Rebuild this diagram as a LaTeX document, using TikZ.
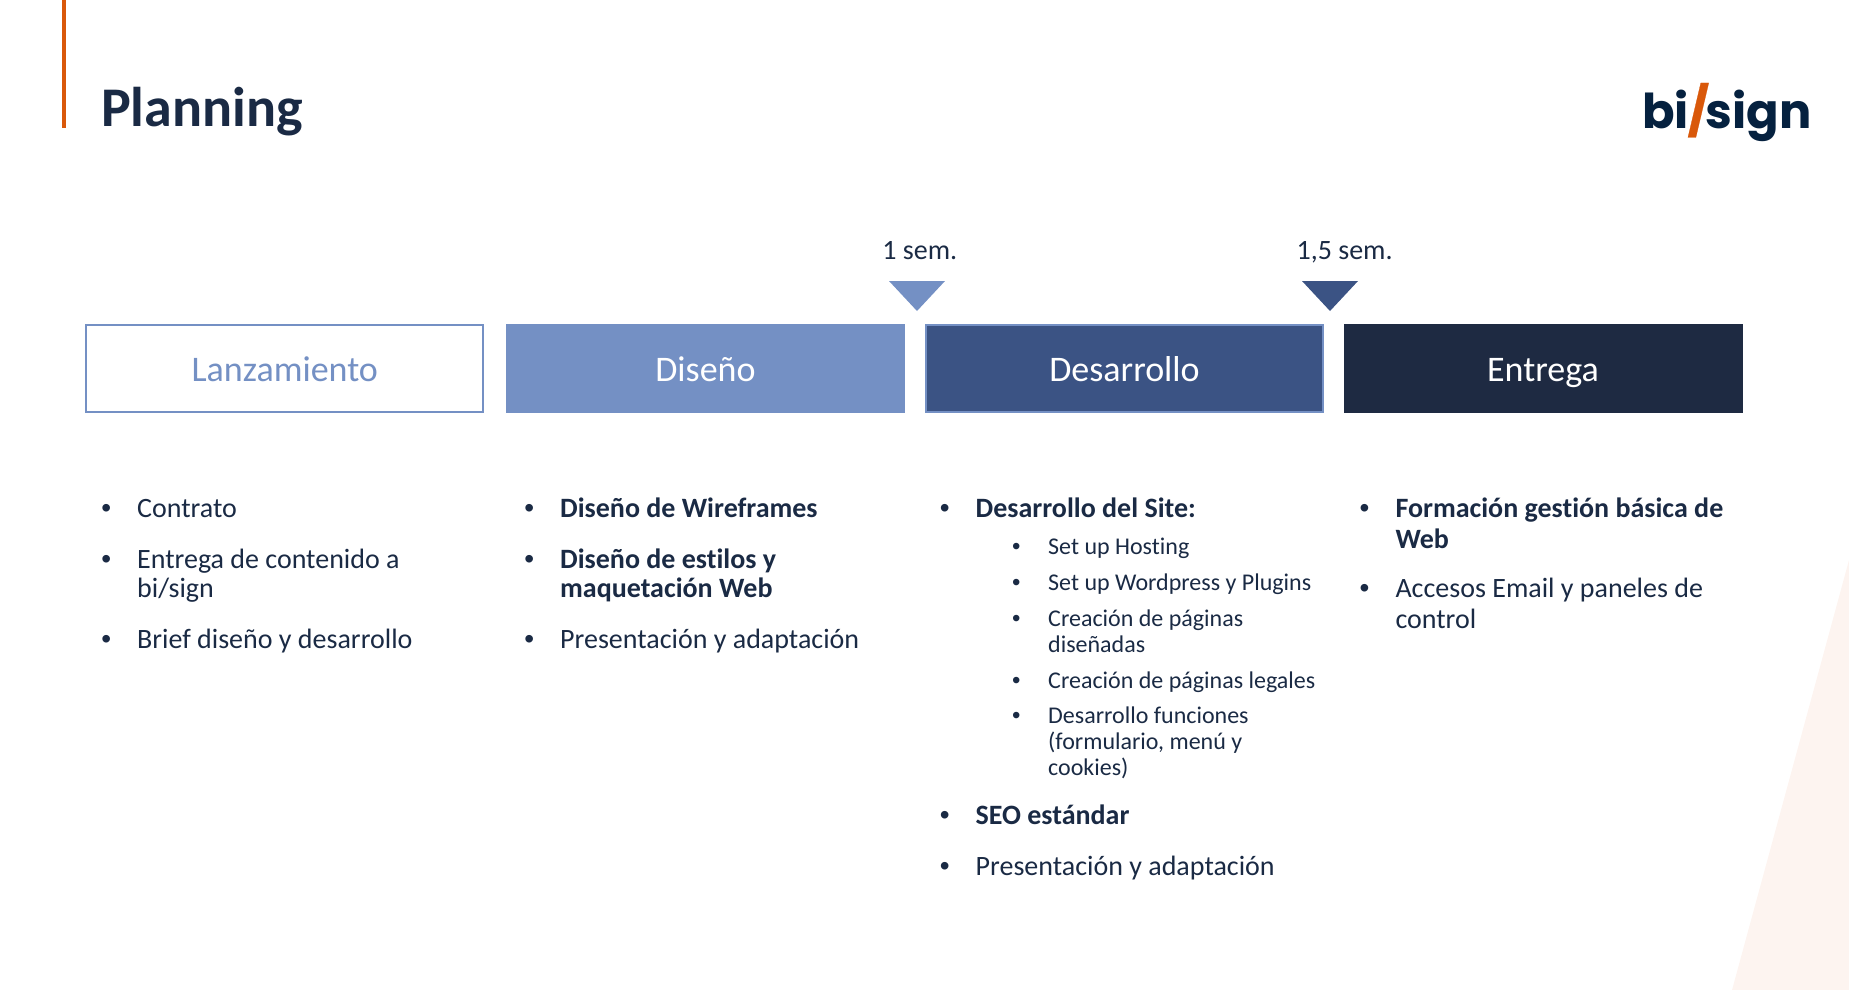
\documentclass[tikz,border=0pt]{standalone}
\usepackage{fontspec}
\setmainfont{Carlito}[Ligatures=NoCommon]
\newfontfamily\logofont{Poppins}
\newfontfamily\slashfont{Poppins}[FakeBold=0.5]
\newfontfamily\bulletfont{Liberation Sans}
\definecolor{ink}{HTML}{1A2A44}
\definecolor{bluea}{HTML}{7490C4}
\definecolor{blueb}{HTML}{3B5384}
\definecolor{bluec}{HTML}{1E2A42}
\definecolor{rust}{HTML}{D9580A}
\definecolor{blush}{HTML}{FDF4F0}
\definecolor{logoink}{HTML}{05213F}
\newcommand{\bul}{\llap{\makebox[0pt]{\bulletfont •}\hspace{31pt}}}
\newcommand{\subbul}{\llap{\makebox[0pt]{\bulletfont •}\hspace{32pt}}}
\tikzset{
  x=1pt,y=-1pt,
  phase/.style={rectangle,minimum width=399pt,minimum height=89pt,inner sep=0pt,text height=31pt,text depth=5pt,font=\fontsize{36}{40}\selectfont},
  phaseline/.style={draw=bluea,line width=1.8pt,minimum width=397pt,minimum height=87.2pt},
  itemtxt/.style={anchor=north west,inner sep=0pt,align=left,text=ink,font=\fontsize{28}{30.5}\selectfont},
  subtxt/.style={anchor=north west,inner sep=0pt,align=left,text=ink,font=\fontsize{24}{26}\selectfont},
  marker/.style={anchor=base,inner sep=0pt,text=ink,font=\fontsize{28}{32}\selectfont},
}
\begin{document}
\begin{tikzpicture}
\useasboundingbox (0,0) rectangle (1849,990);
\fill[blush] (1849,560) -- (1849,990) -- (1732,990) -- cycle;
\fill[rust] (61.5,0) rectangle (66,128);
\node[anchor=base west,inner sep=0pt,text=ink,font=\fontsize{56}{60}\selectfont\bfseries] (title) at (101,126.5) {Planning};
\node[anchor=base west,inner sep=0pt,text=logoink,font=\logofont\fontsize{48}{60}\selectfont\bfseries] (logo) at (1642,128.5) {bi\kern-1.5pt{\slashfont\textcolor{rust}{/}}\kern-3.5pt sign};
\node[phase,phaseline,fill=white,text=bluea] (p1) at (284.8,368.5) {Lanzamiento};
\node[phase,fill=bluea,text=white] (p2) at (705.5,368.5) {Diseño};
\node[phase,phaseline,fill=blueb,text=white] (p3) at (1124.5,368.5) {Desarrollo};
\node[phase,fill=bluec,text=white] (p4) at (1543,368.5) {Entrega};
\fill[bluea] (889,281) -- (945,281) -- (917,311) -- cycle;
\fill[blueb] (1302,281) -- (1358,281) -- (1330,311) -- cycle;
\node[marker] (m1) at (919.8,259) {1 sem.};
\node[marker] (m2) at (1344.6,259) {1,5 sem.};
% column 1
\node[itemtxt] (a1) at (137,496) {\bul\strut Contrato};
\node[itemtxt] (a2) at (137,547) {\bul\strut Entrega de contenido a\\[-1.5pt]\strut bi/sign};
\node[itemtxt] (a3) at (137,627) {\bul\strut Brief diseño y desarrollo};
% column 2
\node[itemtxt] (b1) at (560,496) {\bul\strut\textbf{Diseño de Wireframes}};
\node[itemtxt] (b2) at (560,547) {\bul\strut\textbf{Diseño de estilos y}\\[-1.5pt]\strut\textbf{maquetación Web}};
\node[itemtxt] (b3) at (560,627) {\bul\strut Presentación y adaptación};
% column 3
\node[itemtxt] (c1) at (975.5,496) {\bul\strut\textbf{Desarrollo del Site:}};
\node[subtxt] (s1) at (1048,536) {\subbul\strut Set up Hosting};
\node[subtxt] (s2) at (1048,572) {\subbul\strut Set up Wordpress y Plugins};
\node[subtxt] (s3) at (1048,608) {\subbul\strut Creación de páginas\\\strut diseñadas};
\node[subtxt] (s4) at (1048,670) {\subbul\strut Creación de páginas legales};
\node[subtxt] (s5) at (1048,705.5) {\subbul\strut Desarrollo funciones\\\strut (formulario, menú y\\\strut cookies)};
\node[itemtxt] (c2) at (975.5,803) {\bul\strut\textbf{SEO estándar}};
\node[itemtxt] (c3) at (975.5,854) {\bul\strut Presentación y adaptación};
% column 4
\node[itemtxt] (d1) at (1395.3,496) {\bul\strut\textbf{Formación gestión básica de}\\\strut\textbf{Web}};
\node[itemtxt] (d2) at (1395.3,576) {\bul\strut Accesos Email y paneles de\\\strut control};
\end{tikzpicture}
\end{document}
